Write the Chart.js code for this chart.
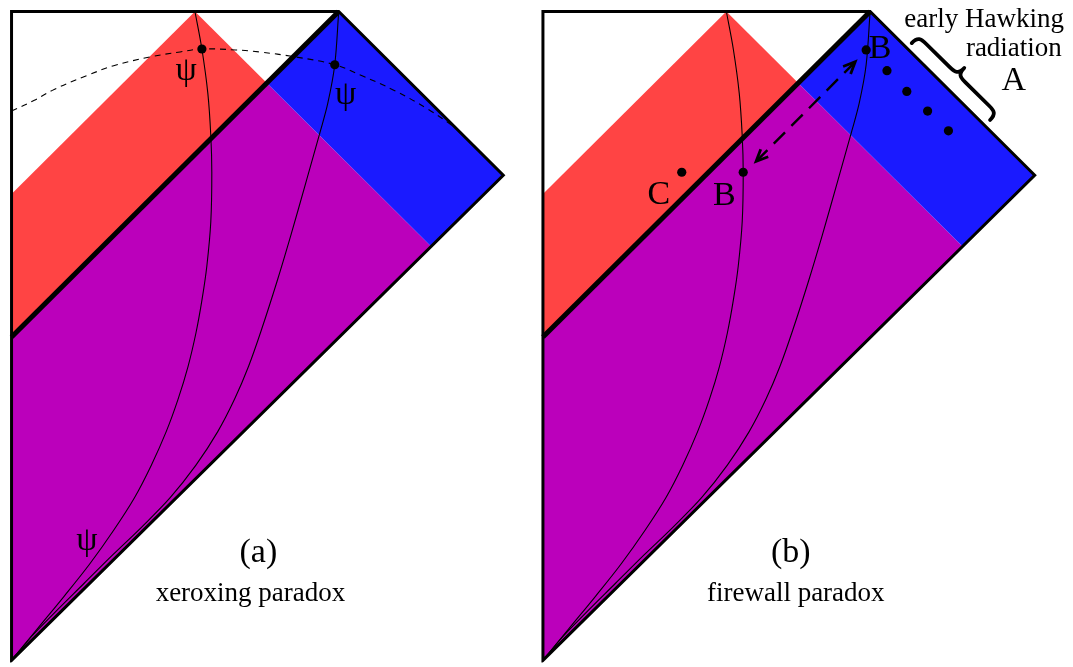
<!DOCTYPE html>
<html>
<head>
<meta charset="utf-8">
<script src="https://cdn.jsdelivr.net/npm/chart.js@4.4.0/dist/chart.umd.min.js"></script>
<style>
html,body{margin:0;padding:0;background:#ffffff;}
#wrap{width:1073px;height:667px;position:relative;}
</style>
</head>
<body>
<div id="wrap"><canvas id="c"></canvas></div>
<script>
// ---- Diagram data (diagram units: x to the right, y downward) ----
const panelOffsets = [0, 536];               // panel (a), panel (b)
const frameOutline  = [[7,400],[7,665],[503,173],[337,7],[7,7],[7,400]];
const horizonLine   = [[7,337],[337,7]];
const redRegion     = [[7,192],[192,7],[265,80],[7,337]];
const blueRegion    = [[265,80],[337,7],[503,173],[430,245]];
const magentaRegion = [[7,337],[265,80],[430,245],[7,665]];
const worldline1 = [[192,7],[199,45],[205,90],[208,133],[209,170],[208,220],[204,265],[199,300],[193,333],
  [185,367],[175,400],[163,433],[148,467],[131,500],[110,533],[86,567],[60,600],[33,633],[7,665]];
const worldline2 = [[337,7],[333,61],[326,100],[318,130],[304,180],[289,233],[275,280],[259,330],[246,367],
  [232,400],[215,433],[193,467],[167,500],[138,530],[109,558],[80,587],[50,617],[26,642],[7,665]];
const niceSlice  = [[7,108],[30,97],[50,86],[83,72],[110,62],[147,53],[177,48],[199,45],[233,46],[257,48],
  [293,53],[333,61],[360,72],[393,87],[427,106],[455,125]];
const dotsA = [[199,45],[333,61]];
const dotsB = [[869,46],[890,67],[910,88],[931,108],[952,128],[745,170],[683,170]];
const arrowB = [[758,159],[858,58]];
const braceB = [[915,39],[994,117]];
const bigLabels = [
  ['ψ',183,76],['ψ',344,101],['ψ',83,553],
  ['(a)',256,565],['(b)',793,565],
  ['B',883,54],['C',660,202],['B',726,203],['A',1018,87]
];
const smallLabels = [
  ['xeroxing paradox',248,605],['firewall paradox',798,605],
  ['early Hawking',988,23],['radiation',1018,52]
];

const RED = '#ff4444', BLUE = '#1a1aff', MAGENTA = '#bb00bb';

const pts = (arr, dx) => arr.map(([x,y]) => ({x: x + dx, y}));

function fillSet(arr, dx, color){
  return {data: pts(arr, dx), fill: 'shape', backgroundColor: color,
    borderColor: 'rgba(0,0,0,0)', borderWidth: 0, pointRadius: 0, tension: 0, order: 100};
}
function lineSet(arr, dx, width, extra){
  return Object.assign({data: pts(arr, dx), fill: false, borderColor: '#000', borderWidth: width,
    pointRadius: 0, tension: 0, order: 50}, extra || {});
}

const datasets = [];
panelOffsets.forEach(dx => {
  datasets.push(fillSet(redRegion, dx, RED));
  datasets.push(fillSet(blueRegion, dx, BLUE));
  datasets.push(fillSet(magentaRegion, dx, MAGENTA));
  datasets.push(lineSet(worldline1, dx, 1.1, {tension: 0.35, order: 45}));
  datasets.push(lineSet(worldline2, dx, 1.1, {tension: 0.35, order: 45}));
  datasets.push(lineSet(horizonLine, dx, 5, {order: 30, borderCapStyle: 'butt'}));
  datasets.push(lineSet(frameOutline, dx, 3, {order: 20, borderJoinStyle: 'miter'}));
});
datasets.push(lineSet(niceSlice, 0, 1.1, {tension: 0.4, borderDash: [6,5], order: 40}));
datasets.push(lineSet(arrowB, 0, 2.4, {borderDash: [16,9], order: 15}));
datasets.push({data: pts(dotsA, 0).concat(pts(dotsB, 0)), showLine: false, pointRadius: 4.6,
  pointBackgroundColor: '#000', pointBorderWidth: 0, pointBorderColor: '#000', order: 5});

const decor = {
  id: 'decor',
  afterDatasetsDraw(chart){
    const ctx = chart.ctx, X = chart.scales.x, Y = chart.scales.y;
    const P = ([x,y]) => [X.getPixelForValue(x), Y.getPixelForValue(y)];
    ctx.save();
    // arrow heads at both ends of the dashed arrow
    const a0 = P(arrowB[0]), a1 = P(arrowB[1]);
    const head = (tip, from) => {
      const dx = tip[0]-from[0], dy = tip[1]-from[1], L = Math.hypot(dx,dy);
      const ux = dx/L, uy = dy/L, len = 13, ang = 0.42;
      ctx.beginPath();
      for (const s of [-1, 1]) {
        const c = Math.cos(s*ang), sn = Math.sin(s*ang);
        const rx = ux*c - uy*sn, ry = ux*sn + uy*c;
        if (s === -1) { ctx.moveTo(tip[0]-rx*len, tip[1]-ry*len); ctx.lineTo(tip[0], tip[1]); }
        else ctx.lineTo(tip[0]-rx*len, tip[1]-ry*len);
      }
      ctx.strokeStyle = '#000'; ctx.lineWidth = 2.8; ctx.lineJoin = 'miter'; ctx.setLineDash([]);
      ctx.stroke();
    };
    head(a1, a0); head(a0, a1);

    // curly brace along the future horizon edge of panel (b)
    const b0 = P(braceB[0]), b1 = P(braceB[1]);
    const Lb = Math.hypot(b1[0]-b0[0], b1[1]-b0[1]);
    const ux = (b1[0]-b0[0])/Lb, uy = (b1[1]-b0[1])/Lb;
    const nx = uy, ny = -ux; // outward
    const d = 19, h = d/2, r = 11, m = Lb/2;
    const Q = (s,t) => [b0[0]+s*ux+t*nx, b0[1]+s*uy+t*ny];
    ctx.beginPath();
    let p = Q(0,0); ctx.moveTo(p[0],p[1]);
    let c1 = Q(0,h*0.9), c2 = Q(r*0.3,h), e = Q(r,h); ctx.bezierCurveTo(c1[0],c1[1],c2[0],c2[1],e[0],e[1]);
    e = Q(m-r,h); ctx.lineTo(e[0],e[1]);
    c1 = Q(m-r*0.3,h); c2 = Q(m,h*1.1); e = Q(m,d); ctx.bezierCurveTo(c1[0],c1[1],c2[0],c2[1],e[0],e[1]);
    c1 = Q(m,h*1.1); c2 = Q(m+r*0.3,h); e = Q(m+r,h); ctx.bezierCurveTo(c1[0],c1[1],c2[0],c2[1],e[0],e[1]);
    e = Q(Lb-r,h); ctx.lineTo(e[0],e[1]);
    c1 = Q(Lb-r*0.3,h); c2 = Q(Lb,h*0.9); e = Q(Lb,0); ctx.bezierCurveTo(c1[0],c1[1],c2[0],c2[1],e[0],e[1]);
    ctx.lineWidth = 3.8; ctx.lineCap = 'round'; ctx.lineJoin = 'round'; ctx.strokeStyle = '#000';
    ctx.stroke();

    // labels
    ctx.fillStyle = '#000'; ctx.textAlign = 'center'; ctx.textBaseline = 'alphabetic';
    ctx.font = '34px "Liberation Serif", "DejaVu Serif", serif';
    bigLabels.forEach(([t,x,y]) => { const q = P([x,y]); ctx.fillText(t, q[0], q[1]); });
    ctx.font = '27px "Liberation Serif", "DejaVu Serif", serif';
    smallLabels.forEach(([t,x,y]) => { const q = P([x,y]); ctx.fillText(t, q[0], q[1]); });
    ctx.restore();
  }
};

new Chart(document.getElementById('c'), {
  type: 'line',
  data: {datasets},
  options: {
    responsive: true, maintainAspectRatio: false, animation: false,
    layout: {padding: 0},
    plugins: {legend: {display: false}, tooltip: {enabled: false}},
    events: [],
    scales: {
      x: {type: 'linear', min: 0, max: 1073, display: false},
      y: {type: 'linear', min: 0, max: 667, reverse: true, display: false}
    }
  },
  plugins: [decor]
});
</script>
</body>
</html>
